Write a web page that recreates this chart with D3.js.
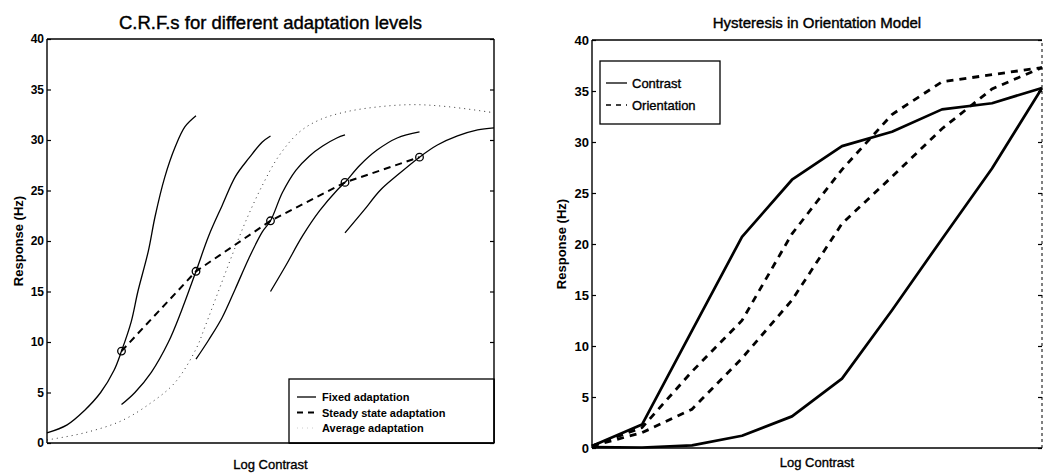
<!DOCTYPE html>
<html><head><meta charset="utf-8">
<script src="https://cdn.jsdelivr.net/npm/d3@7"></script>
<style>
body{margin:0;background:#fff}
svg{display:block}
text{font-family:"Liberation Sans",Arial,Helvetica,sans-serif;fill:#000}
</style>
</head><body>
<svg id="chart" width="1052" height="476"></svg>
<script>
// ---------------- DATA ----------------
// Left panel: C.R.F.s for different adaptation levels (x: log contrast, arbitrary units 0..6)
const yTicks = [0, 5, 10, 15, 20, 25, 30, 35, 40];
const fixed1 = [[0,1.0],[0.27,1.8],[0.5,3.2],[0.72,5.0],[0.9,7.2],[1.0,9.1],[1.13,12],[1.22,15],[1.36,19],[1.45,22.4],[1.58,26.3],[1.72,29.3],[1.85,31.3],[2.0,32.4]];
const fixed2 = [[1.0,3.8],[1.18,5.0],[1.4,7.0],[1.63,10],[1.8,13],[2.0,17],[2.17,20.5],[2.35,23.5],[2.53,26.4],[2.71,28.2],[2.89,29.8],[3.0,30.4]];
const fixed3 = [[2.0,8.3],[2.17,10.2],[2.35,12.4],[2.53,15.3],[2.71,18.3],[2.89,20.9],[3.0,22],[3.16,24.8],[3.34,27],[3.52,28.4],[3.7,29.4],[3.89,30.2],[4.0,30.5]];
const fixed4 = [[3.0,15],[3.2,17.5],[3.43,20.5],[3.66,23],[3.89,25],[4.0,25.8],[4.2,27.5],[4.43,29],[4.7,30.2],[5.0,30.8]];
const fixed5 = [[4.0,20.8],[4.25,23],[4.47,25],[4.7,26.5],[5.0,28.3],[5.24,29.5],[5.51,30.4],[5.78,31],[6.0,31.2]];
const fixedCurves = [fixed1, fixed2, fixed3, fixed4, fixed5];
const steadyX = [1, 2, 3, 4, 5];
const steadyY = [9.1, 17, 22, 25.8, 28.3];
const averageCurve = [[0,0.3],[0.5,1.0],[1.0,2.2],[1.4,4.0],[1.72,6.0],[2.0,9.3],[2.12,11.5],[2.3,15],[2.48,18.5],[2.67,22],[2.89,25.5],[3.12,28.5],[3.39,30.8],[3.66,32],[4.02,32.8],[4.47,33.3],[4.92,33.5],[5.38,33.3],[6.0,32.7]];
const leftLegend = ["Fixed adaptation", "Steady state adaptation", "Average adaptation"];

// Right panel: Hysteresis in Orientation Model (x: log contrast steps 0..9)
const hystX = [0, 1, 2, 3, 4, 5, 6, 7, 8, 9];
const contrastUp   = [0.2, 2.3, 11.5, 20.7, 26.3, 29.6, 31.0, 33.2, 33.8, 35.3];
const contrastDown = [0.1, 0.05, 0.25, 1.2, 3.1, 6.8, 13.5, 20.5, 27.4, 35.3];
const orientUp     = [0.2, 2.0, 7.5, 12.5, 21.0, 27.3, 32.7, 35.9, 36.6, 37.3];
const orientDown   = [0.2, 1.5, 3.8, 8.8, 14.5, 22.0, 26.6, 31.3, 35.2, 37.3];
const rightLegend = ["Contrast", "Orientation"];

// ---------------- DRAW ----------------
const svg = d3.select("#chart");

function frame(g, x, y, opts) {
  const [x0, x1] = x.range(), [y0, y1] = y.range();
  const ax = d3.axisLeft(y).tickValues(yTicks).tickSize(-4).tickPadding(opts.pad).tickFormat(d3.format("d"));
  const ga = g.append("g").attr("transform", `translate(${x0},0)`).call(ax);
  ga.select(".domain").remove();
  ga.selectAll(".tick line").attr("stroke", "#000").attr("stroke-width", 1.2);
  ga.selectAll("text").style("font-size", opts.tickFont + "px").style("font-weight", "bold").attr("fill", "#000");
  const ar = d3.axisRight(y).tickValues(yTicks).tickSize(-4).tickFormat("");
  const gr = g.append("g").attr("transform", `translate(${x1},0)`).call(ar);
  gr.select(".domain").remove();
  gr.selectAll(".tick line").attr("stroke", "#000").attr("stroke-width", 1.2);
  g.append("line").attr("x1", x0).attr("x2", x0).attr("y1", y0).attr("y2", y1).attr("stroke", "#000").attr("stroke-width", 1.4);
  g.append("line").attr("x1", x0).attr("x2", x1).attr("y1", y0).attr("y2", y0).attr("stroke", "#000").attr("stroke-width", 1.4);
  g.append("line").attr("x1", x0).attr("x2", x1).attr("y1", y1).attr("y2", y1).attr("stroke", "#000").attr("stroke-width", 1.4);
  g.append("line").attr("x1", x1).attr("x2", x1).attr("y1", y0).attr("y2", y1).attr("stroke", "#000")
    .attr("stroke-width", opts.rightDash ? 1 : 1.4).attr("stroke-dasharray", opts.rightDash ? "3,3" : null);
  g.append("text").attr("x", (x0 + x1) / 2).attr("y", opts.titleY).attr("text-anchor", "middle")
    .style("font-size", opts.titleFont + "px").attr("stroke", "#000").attr("stroke-width", 0.4).text(opts.title);
  g.append("text").attr("x", (x0 + x1) / 2).attr("y", opts.xlabY).attr("text-anchor", "middle")
    .style("font-size", "13px").attr("stroke", "#000").attr("stroke-width", 0.35).text("Log Contrast");
  g.append("text").attr("transform", `translate(${opts.ylabX},${(y0 + y1) / 2}) rotate(-90)`)
    .attr("text-anchor", "middle").style("font-size", "13px").style("font-weight", "bold").text("Response (Hz)");
}

// ---- Left panel ----
const xL = d3.scaleLinear().domain([0, 6]).range([47, 494]);
const yL = d3.scaleLinear().domain([0, 40]).range([443, 39]);
const gL = svg.append("g");
const lineL = d3.line().x(d => xL(d[0])).y(d => yL(d[1])).curve(d3.curveCatmullRom);

gL.append("path").datum(averageCurve).attr("d", lineL).attr("fill", "none")
  .attr("stroke", "#333").attr("stroke-width", 1).attr("stroke-dasharray", "1,4");
gL.selectAll(".fixed").data(fixedCurves).join("path").attr("class", "fixed")
  .attr("d", lineL).attr("fill", "none").attr("stroke", "#000").attr("stroke-width", 1.3);
const steady = steadyX.map((v, i) => [v, steadyY[i]]);
gL.append("path").datum(steady).attr("d", d3.line().x(d => xL(d[0])).y(d => yL(d[1])))
  .attr("fill", "none").attr("stroke", "#000").attr("stroke-width", 2).attr("stroke-dasharray", "7,5");
gL.selectAll(".mk").data(steady).join("circle").attr("class", "mk")
  .attr("cx", d => xL(d[0])).attr("cy", d => yL(d[1])).attr("r", 3.8)
  .attr("fill", "none").attr("stroke", "#000").attr("stroke-width", 1.3);

frame(gL, xL, yL, {pad: 3, tickFont: 12, title: "C.R.F.s for different adaptation levels", titleY: 29, titleFont: 18.5, xlabY: 469, ylabX: 23});

// left legend
const lgL = gL.append("g");
lgL.append("rect").attr("x", 289).attr("y", 379).attr("width", 494 - 289).attr("height", 443 - 379)
  .attr("fill", "#fff").attr("stroke", "#000").attr("stroke-width", 1.3);
const legStyles = [{dash: null, w: 1.3, c: "#000"}, {dash: "6,5", w: 2, c: "#000"}, {dash: "1,4", w: 1, c: "#ccc"}];
leftLegend.forEach((t, i) => {
  const yy = 397 + i * 15.5;
  lgL.append("line").attr("x1", 297).attr("x2", 316).attr("y1", yy).attr("y2", yy)
    .attr("stroke", legStyles[i].c).attr("stroke-width", legStyles[i].w).attr("stroke-dasharray", legStyles[i].dash);
  lgL.append("text").attr("x", 322).attr("y", yy + 4).style("font-size", "11px").style("font-weight", "bold").text(t);
});
gL.append("line").attr("x1", 289).attr("x2", 494).attr("y1", 443).attr("y2", 443).attr("stroke", "#000").attr("stroke-width", 1.4);
gL.append("line").attr("x1", 494).attr("x2", 494).attr("y1", 379).attr("y2", 443).attr("stroke", "#000").attr("stroke-width", 1.4);

// ---- Right panel ----
const xR = d3.scaleLinear().domain([0, 9]).range([592, 1042]);
const yR = d3.scaleLinear().domain([0, 40]).range([448, 40]);
const gR = svg.append("g");
const lineR = d3.line().x((d, i) => xR(hystX[i])).y(d => yR(d));
[contrastUp, contrastDown].forEach(s => {
  gR.append("path").datum(s).attr("d", lineR).attr("fill", "none").attr("stroke", "#000")
    .attr("stroke-width", 2.7).attr("stroke-linejoin", "round");
});
[orientUp, orientDown].forEach(s => {
  gR.append("path").datum(s).attr("d", lineR).attr("fill", "none").attr("stroke", "#000")
    .attr("stroke-width", 2.8).attr("stroke-dasharray", "7,6");
});

frame(gR, xR, yR, {pad: 3, tickFont: 13, title: "Hysteresis in Orientation Model", titleY: 28, titleFont: 15, xlabY: 467, ylabX: 566, rightDash: true});

// right legend
const lgR = gR.append("g");
lgR.append("rect").attr("x", 600).attr("y", 61).attr("width", 120).attr("height", 63)
  .attr("fill", "#fff").attr("stroke", "#000").attr("stroke-width", 1.3);
rightLegend.forEach((t, i) => {
  const yy = 83 + i * 22;
  lgR.append("line").attr("x1", 606).attr("x2", 627).attr("y1", yy).attr("y2", yy)
    .attr("stroke", "#000").attr("stroke-width", 1.3).attr("stroke-dasharray", i ? "5,5" : null);
  lgR.append("text").attr("x", 632).attr("y", yy + 5).style("font-size", "13px")
    .attr("stroke", "#000").attr("stroke-width", 0.35).text(t);
});
</script>
</body></html>
